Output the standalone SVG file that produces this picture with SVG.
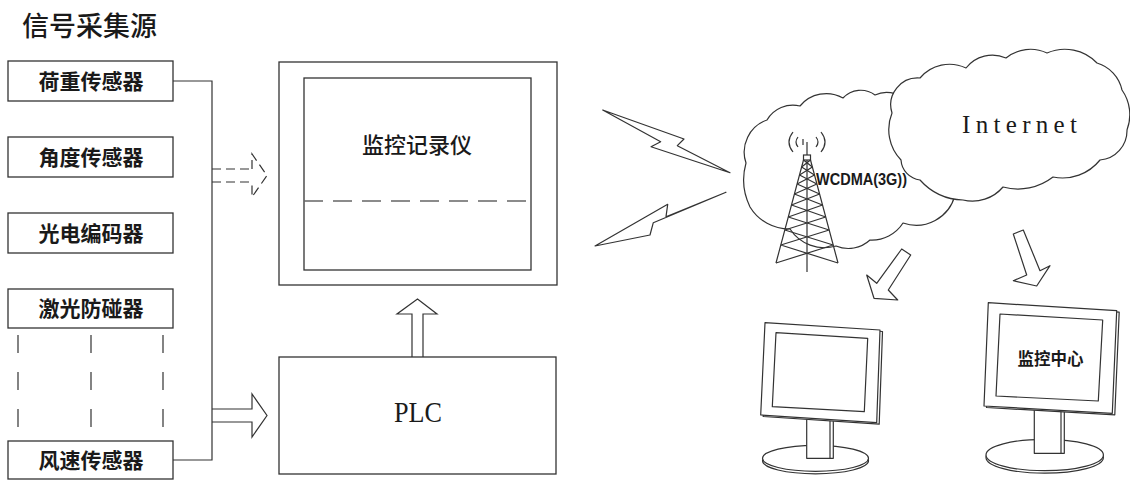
<svg xmlns="http://www.w3.org/2000/svg" width="1130" height="480" viewBox="0 0 1130 480">
<style>
.ln{fill:none;stroke:#333;stroke-width:1.2}
.bx{fill:#fff;stroke:#333;stroke-width:1.3}
.wf{fill:#fff;stroke:#333;stroke-width:1.2;stroke-linejoin:round}
.cj{font-family:"Noto Sans CJK SC","Noto Sans CJK JP",sans-serif;fill:#1a1a1a}
.sb{font-size:21px;font-weight:700;text-anchor:middle}
.ser{font-family:"Liberation Serif","Times New Roman",serif;fill:#1a1a1a}
</style>
<rect width="1130" height="480" fill="#fff"/>

<g id="title"><text class="cj" x="22" y="36" font-size="27" font-weight="500">信号采集源</text></g>

<g id="s1"><rect class="bx" x="8" y="61" width="165" height="40"/><text class="cj sb" x="91" y="89">荷重传感器</text></g>
<g id="s2"><rect class="bx" x="8" y="137" width="165" height="40"/><text class="cj sb" x="91" y="165">角度传感器</text></g>
<g id="s3"><rect class="bx" x="8" y="213" width="165" height="40"/><text class="cj sb" x="91" y="241">光电编码器</text></g>
<g id="s4"><rect class="bx" x="8" y="289" width="165" height="39"/><text class="cj sb" x="91" y="316">激光防碰器</text></g>
<g id="s5"><rect class="bx" x="8" y="441" width="165" height="38"/><text class="cj sb" x="91" y="468">风速传感器</text></g>

<g id="ellipsis" class="ln" stroke-dasharray="18,19">
<line x1="18" y1="335" x2="18" y2="430"/>
<line x1="91" y1="335" x2="91" y2="430"/>
<line x1="163" y1="335" x2="163" y2="430"/>
</g>

<g id="recorder">
<rect class="bx" x="279" y="62" width="278" height="223"/>
<rect class="bx" x="304" y="78" width="227" height="192"/>
<line x1="304" y1="201" x2="531" y2="201" stroke="#666" stroke-width="1.5" stroke-dasharray="19,10"/>
<text class="cj" x="417" y="153" font-size="22" font-weight="500" text-anchor="middle">监控记录仪</text>
</g>

<g id="plc">
<rect class="bx" x="279" y="357" width="277" height="117"/>
<text class="ser" x="394" y="422" font-size="29" textLength="48" lengthAdjust="spacingAndGlyphs">PLC</text>
</g>

<g id="wcdma">
<path class="wf" d="M905,100 L945,120 L955,195 A40,40 0 0 1 903,223 A37,37 0 0 1 870,240 A32,32 0 0 1 836,246 A41,41 0 0 1 790,229 A46,46 0 0 1 750,207 A62,62 0 0 1 746,163 A34,34 0 0 1 767,120 A30,30 0 0 1 800,106 A34,34 0 0 1 843,98 A24,24 0 0 1 875,95 A26,26 0 0 1 905,100 Z"/>
<g class="ln" stroke-width="1">
<path d="M803.5,160 L776,263 M810.5,160 L838,263 M807,142 L807,272"/>
<rect x="803.5" y="155" width="7" height="5" fill="#fff"/>
<path d="M803.5,160L812.4,167M810.5,160L801.6,167M801.6,167L814.5,175M812.4,167L799.5,175M799.5,175L816.9,184M814.5,175L797.1,184M797.1,184L819.6,194M816.9,184L794.4,194M794.4,194L822.5,205M819.6,194L791.5,205M791.5,205L825.7,217M822.5,205L788.3,217M788.3,217L829.2,230M825.7,217L784.8,230M784.8,230L833.2,245M829.2,230L780.8,245M780.8,245L838,263M833.2,245L776,263"/>
<path d="M793,132 Q785,142 793,152 M798,137 Q794,142 798,147 M803,139 L803,145 M821,132 Q829,142 821,152 M816,137 Q820,142 816,147"/>
</g>
<text x="816" y="185" font-family="'Liberation Sans',Arial,sans-serif" font-weight="700" font-size="16" textLength="91" lengthAdjust="spacingAndGlyphs" fill="#1a1a1a">WCDMA(3G))</text>
</g>

<g id="internet">
<path class="wf" d="M892,113 A27,27 0 0 1 920,78 A38.5,38.5 0 0 1 966,68 A33.5,33.5 0 0 1 1006,58 A38.5,38.5 0 0 1 1047,53 A44.6,44.6 0 0 1 1097,63 A36,36 0 0 1 1122,90 A43,43 0 0 1 1127,130 A29.5,29.5 0 0 1 1100,160 A48,48 0 0 1 1053,177 A57,57 0 0 1 1003,187 A40,40 0 0 1 963,200 A60,60 0 0 1 920,180 A21.5,21.5 0 0 1 901,160 A44,44 0 0 1 892,113 Z"/>
<text class="ser" x="962" y="133" font-size="25" textLength="115">Internet</text>
</g>

<g id="monitor1">
<ellipse class="wf" cx="815.5" cy="460.8" rx="53" ry="13"/>
<ellipse class="wf" cx="815.5" cy="458.3" rx="53" ry="13"/>
<rect class="wf" x="806.7" y="418" width="26.6" height="40.3"/>
<line class="ln" x1="830" y1="420" x2="830" y2="458.3" stroke-width="1"/>
<polygon class="wf" points="767.5,324.2 882.5,331.5 879.2,424.2 763.2,416.5"/>
<polygon class="wf" points="765,322.7 880,330 876.7,422.7 760.7,415"/>
<polygon class="wf" points="776,332.7 867.7,338.3 864.3,411.7 772.3,406.7"/>
</g>

<g id="monitor2">
<ellipse class="wf" cx="1044.7" cy="457.5" rx="58.7" ry="15.7"/>
<ellipse class="wf" cx="1044.7" cy="455" rx="58.7" ry="15.7"/>
<rect class="wf" x="1034.3" y="408" width="30" height="45.3"/>
<line class="ln" x1="1061" y1="410" x2="1061" y2="453.3" stroke-width="1"/>
<polygon class="wf" points="990.8,304.2 1119.2,312.2 1114.8,414.8 986.5,407.5"/>
<polygon class="wf" points="988.3,302.7 1116.7,310.7 1112.3,413.3 984,406"/>
<polygon class="wf" points="1000,314 1102.7,320 1098.3,401 996,396"/>
<text class="cj" x="1050.5" y="365" font-size="16.5" font-weight="700" text-anchor="middle">监控中心</text>
</g>

<g id="connectors">
<path class="ln" d="M173,81 H212 V460 H173"/>
<g class="ln" stroke-dasharray="9,5">
<path d="M212,169 H252 M212,182 H252"/>
<path d="M252,169 V154 L267,175.5 L252,197 V182"/>
</g>
<path class="ln" d="M212,409 H252 V394 L267,415.5 L252,437 V422 H212"/>
<path class="ln" d="M412,357 V314 H397 L417.5,299 L437,314 H423 V357"/>
<polygon class="wf" points="602.7,110 684,139 677.3,145.7 730,172.7 651,146.7 660.7,141.7"/>
<polygon class="wf" points="595,246 667.7,204.3 666,216.7 726,192.3 653.3,222.7 650,235"/>
<polygon class="wf" points="901.7,249 910.7,255 888.3,290 897.7,300 874,298.3 866.7,275 876.7,283.3"/>
<polygon class="wf" points="1013.3,234 1023.3,230 1040,270.7 1050,265.7 1036.7,286 1013.3,280.7 1026.7,275"/>
</g>
</svg>
